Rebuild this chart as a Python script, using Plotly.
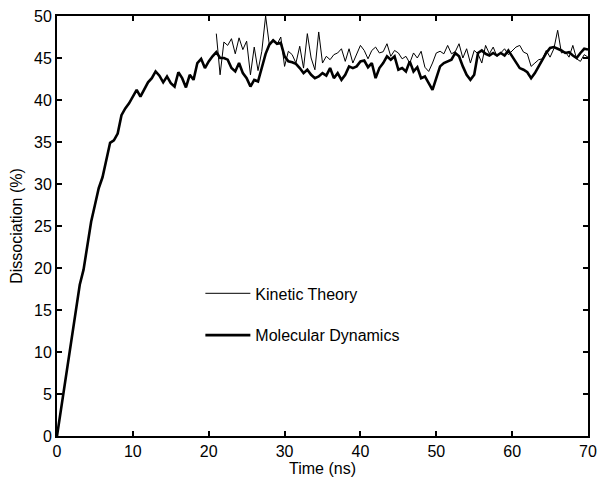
import plotly.graph_objects as go

# Molecular Dynamics (thick), t = 0 .. 70 ns step 0.5
md_time = [i * 0.5 for i in range(141)]
md_values = [
    0.0, 3.0, 6.5, 9.5, 12.3, 15.5, 18.0, 19.8, 22.5, 25.5,
    27.5, 29.5, 30.8, 33.0, 34.9, 35.2, 36.0, 38.2, 39.0, 39.6,
    40.4, 41.2, 40.4, 41.3, 42.1, 42.6, 43.4, 42.9, 42.1, 42.8,
    42.0, 41.6, 43.3, 42.6, 41.5, 43.0, 42.4, 44.4, 44.9, 43.8,
    44.6, 45.2, 45.7, 45.0, 45.0, 44.8, 43.8, 43.4, 44.4, 43.2,
    42.6, 41.6, 42.4, 42.2, 43.8, 45.5, 46.6, 47.1, 46.7, 46.8,
    45.2, 44.6, 44.5, 44.3, 43.8, 43.2, 43.6, 43.0, 42.6, 42.8,
    43.2, 42.9, 43.8, 42.6, 43.2, 42.4, 43.0, 44.0, 43.8, 44.0,
    44.6, 44.7, 43.9, 44.4, 42.6, 43.8, 44.4, 45.2, 44.8, 45.2,
    43.6, 43.8, 43.4, 44.6, 43.4, 43.9, 42.6, 42.8, 42.0, 41.2,
    42.6, 44.0, 44.4, 44.6, 44.8, 45.6, 45.2, 44.0, 43.0, 42.4,
    43.0, 45.6, 45.9, 45.5, 45.3, 45.6, 45.3, 45.6, 45.3, 45.9,
    45.2, 44.6, 43.8, 43.6, 43.3, 42.6, 43.2, 44.0, 44.8, 45.6,
    46.2, 46.3, 46.1, 45.9, 45.6, 45.7, 45.3, 45.0, 45.6, 46.1,
    46.0,
]

# Kinetic Theory (thin), t = 21 .. 70 ns step 0.5
kt_time = [21 + i * 0.5 for i in range(99)]
kt_values = [
    47.9, 43.0, 46.9, 46.5, 47.3, 45.5, 47.4, 46.0, 47.0, 43.0,
    46.3, 43.5, 45.8, 50.0, 46.5, 47.2, 46.6, 47.5, 44.0, 45.8,
    45.4, 44.4, 46.4, 43.8, 47.9, 45.0, 43.6, 48.1, 44.4, 45.2,
    44.8, 45.4, 45.6, 46.1, 44.6, 46.1, 44.4, 45.5, 46.5, 45.9,
    44.9, 45.9, 46.3, 45.6, 45.75, 46.7, 45.2, 45.9, 45.6, 44.9,
    45.2, 44.4, 45.6, 45.0, 45.8, 43.9, 43.4, 44.4, 45.6, 45.8,
    45.5, 46.5, 45.5, 45.75, 46.7, 45.0, 46.1, 44.4, 45.9, 45.5,
    44.4, 46.5, 45.5, 46.3, 45.2, 45.6, 46.1, 45.4, 45.8, 46.3,
    46.5, 45.7, 45.5, 44.0, 44.4, 44.8, 44.9, 45.9, 45.1, 46.1,
    48.3, 45.6, 45.75, 45.1, 46.5, 44.9, 44.6, 45.4, 45.1,
]

x_ticks = [0, 10, 20, 30, 40, 50, 60, 70]
y_ticks = [0, 5, 10, 15, 20, 25, 30, 35, 40, 45, 50]

FONT = "Liberation Sans, Arial, Helvetica, sans-serif"
FS = 16

fig = go.Figure()
fig.add_trace(go.Scatter(
    x=kt_time, y=kt_values, mode="lines", name="Kinetic Theory",
    line=dict(color="black", width=1), legendgroup="kt",
))
fig.add_trace(go.Scatter(
    x=md_time, y=md_values, mode="lines", name="Molecular Dynamics",
    line=dict(color="black", width=2.6), legendgroup="md",
))

axis_common = dict(
    showline=True, linecolor="black", linewidth=2, mirror="ticks",
    ticks="inside", ticklen=5, tickwidth=1.5, tickcolor="black",
    showgrid=False, zeroline=False, automargin=False,
    ticklabeloverflow="allow",
    tickfont=dict(family=FONT, size=FS, color="black"),
)

fig.update_layout(
    width=600, height=478,
    margin=dict(l=57, r=12, t=16, b=42),
    paper_bgcolor="white", plot_bgcolor="white",
    font=dict(family=FONT, size=FS, color="black"),
    showlegend=True,
    legend=dict(
        x=0.27, y=0.38, xanchor="left", yanchor="top",
        bgcolor="rgba(0,0,0,0)", borderwidth=0,
        font=dict(family=FONT, size=FS, color="black"),
        tracegroupgap=18, itemwidth=45,
    ),
    xaxis=dict(
        range=[0, 70], tickvals=x_ticks,
        ticktext=[str(v) for v in x_ticks],
        ticklabelstandoff=0,
        title=dict(text="Time (ns)", standoff=0,
                   font=dict(family=FONT, size=FS, color="black")),
        **axis_common,
    ),
    yaxis=dict(
        range=[0, 50], tickvals=y_ticks,
        ticktext=[str(v) for v in y_ticks],
        title=dict(text="Dissociation (%)", standoff=7,
                   font=dict(family=FONT, size=FS, color="black")),
        **axis_common,
    ),
)

fig.write_html(
    "out.html",
    config={"displayModeBar": False},
    post_script="document.body.style.margin='0';document.body.style.overflow='hidden';",
)
